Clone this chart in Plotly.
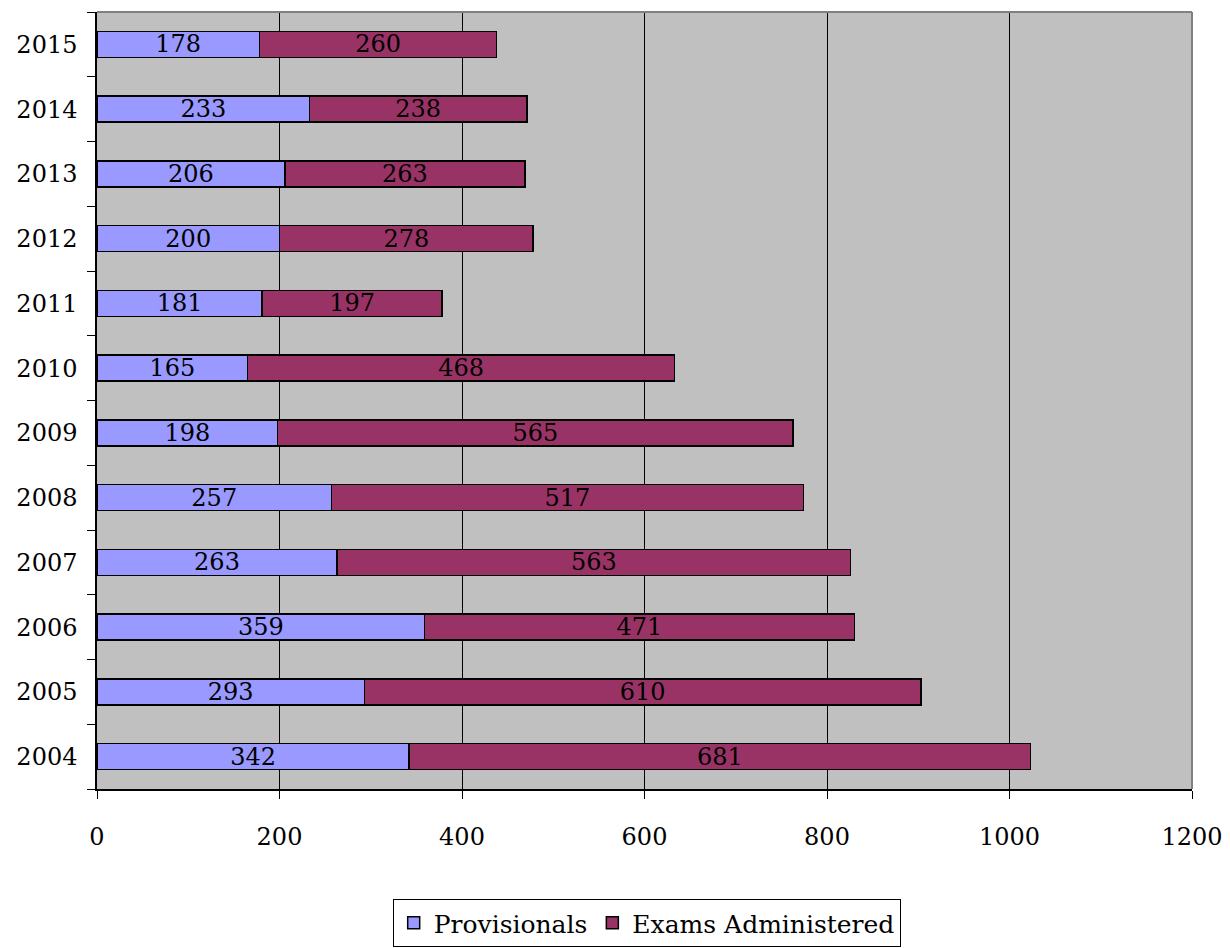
import plotly.graph_objects as go

years = ["2004", "2005", "2006", "2007", "2008", "2009", "2010", "2011", "2012", "2013", "2014", "2015"]
provisionals = [342, 293, 359, 263, 257, 198, 165, 181, 200, 206, 233, 178]
exams = [681, 610, 471, 563, 517, 565, 468, 197, 278, 263, 238, 260]
x_ticks = [0, 200, 400, 600, 800, 1000, 1200]

FONT = "DejaVu Serif"
FS = 24

fig = go.Figure()
fig.add_trace(go.Bar(
    y=years, x=provisionals, orientation="h", name="Provisionals",
    marker=dict(color="#9999FF", line=dict(color="black", width=1.5)),
    text=[str(v) for v in provisionals], textposition="inside",
    insidetextanchor="middle", constraintext="none",
    textfont=dict(family=FONT, size=FS, color="black"),
))
fig.add_trace(go.Bar(
    y=years, x=exams, orientation="h", name="Exams Administered",
    marker=dict(color="#993366", line=dict(color="black", width=1.5)),
    text=[str(v) for v in exams], textposition="inside",
    insidetextanchor="middle", constraintext="none",
    textfont=dict(family=FONT, size=FS, color="black"),
))

fig.update_layout(
    barmode="stack",
    bargap=0.6,
    width=1230, height=948,
    margin=dict(l=97, r=38, t=12, b=159, autoexpand=False),
    paper_bgcolor="white",
    plot_bgcolor="#C0C0C0",
    font=dict(family=FONT, size=FS, color="black"),
    showlegend=True,
    legend=dict(
        orientation="h", x=0.502, xanchor="center", y=-0.1416, yanchor="top",
        bordercolor="black", borderwidth=1, bgcolor="white",
        font=dict(family=FONT, size=25, color="black"),
        traceorder="normal", itemwidth=30,
    ),
    xaxis=dict(
        range=[0, 1200], tickvals=x_ticks, ticktext=[str(v) for v in x_ticks],
        showgrid=True, gridcolor="black", gridwidth=1,
        ticks="outside", ticklen=8, tickcolor="black",
        showline=True, linecolor="black", linewidth=1.5, mirror=False,
        ticklabelstandoff=17, zeroline=False, automargin=False,
    ),
    yaxis=dict(
        categoryorder="array", categoryarray=years,
        tickson="boundaries", ticks="outside", ticklen=8, tickcolor="black",
        showline=True, linecolor="black", linewidth=1.5,
        showgrid=False, ticklabelstandoff=13, automargin=False,
    ),
    shapes=[
        dict(type="line", xref="paper", yref="paper", x0=0, x1=1, y0=1, y1=1,
             line=dict(color="#808080", width=2)),
        dict(type="line", xref="paper", yref="paper", x0=1, x1=1, y0=0, y1=1,
             line=dict(color="#808080", width=2)),
    ],
)

fig.write_html("out.html")
